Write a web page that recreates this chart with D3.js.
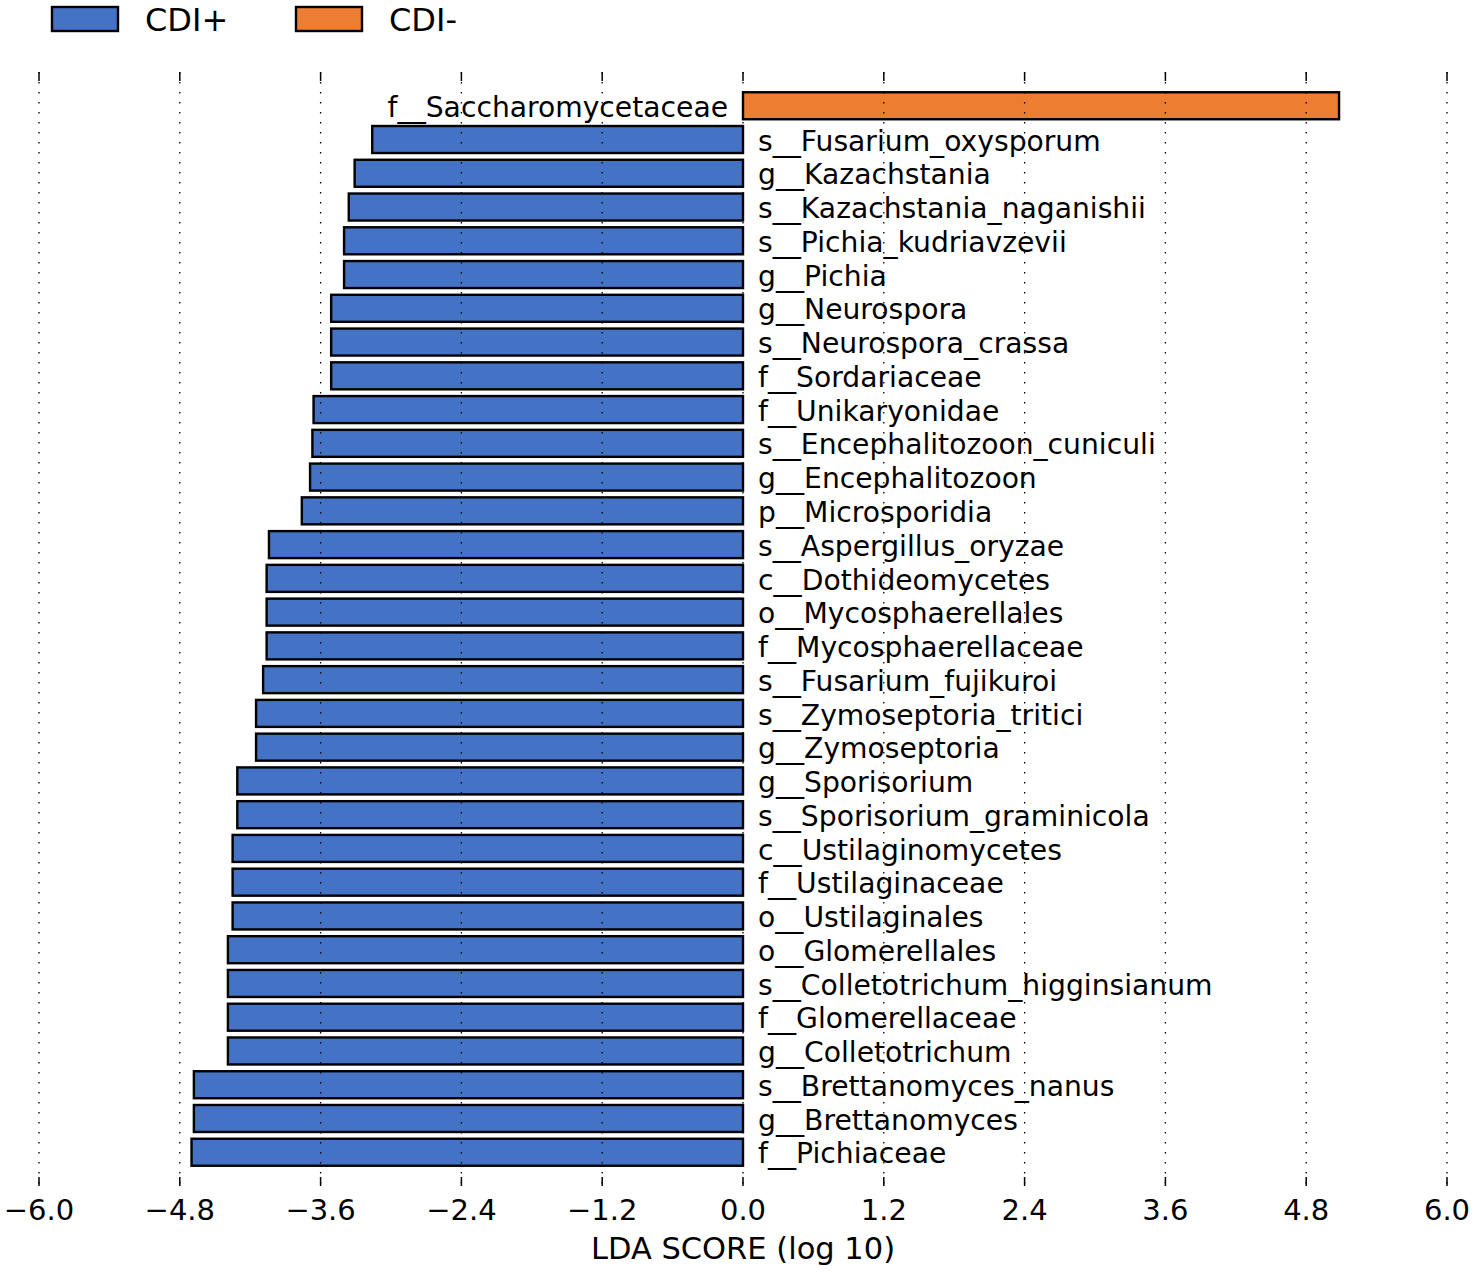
<!DOCTYPE html>
<html>
<head>
<meta charset="utf-8">
<script src="https://cdn.jsdelivr.net/npm/d3@7"></script>
<style>
  html, body { margin: 0; padding: 0; background: #fff; }
  text { font-family: "DejaVu Sans", sans-serif; fill: #000; }
</style>
</head>
<body>
<svg id="chart" width="1476" height="1274"></svg>
<script>
const taxa = [
  "f__Saccharomycetaceae",
  "s__Fusarium_oxysporum",
  "g__Kazachstania",
  "s__Kazachstania_naganishii",
  "s__Pichia_kudriavzevii",
  "g__Pichia",
  "g__Neurospora",
  "s__Neurospora_crassa",
  "f__Sordariaceae",
  "f__Unikaryonidae",
  "s__Encephalitozoon_cuniculi",
  "g__Encephalitozoon",
  "p__Microsporidia",
  "s__Aspergillus_oryzae",
  "c__Dothideomycetes",
  "o__Mycosphaerellales",
  "f__Mycosphaerellaceae",
  "s__Fusarium_fujikuroi",
  "s__Zymoseptoria_tritici",
  "g__Zymoseptoria",
  "g__Sporisorium",
  "s__Sporisorium_graminicola",
  "c__Ustilaginomycetes",
  "f__Ustilaginaceae",
  "o__Ustilaginales",
  "o__Glomerellales",
  "s__Colletotrichum_higginsianum",
  "f__Glomerellaceae",
  "g__Colletotrichum",
  "s__Brettanomyces_nanus",
  "g__Brettanomyces",
  "f__Pichiaceae"
];
const ldaScores = [
  5.08, -3.16, -3.31, -3.36, -3.40, -3.40, -3.51, -3.51, -3.51,
  -3.66, -3.67, -3.69, -3.76, -4.04, -4.06, -4.06, -4.06, -4.09,
  -4.15, -4.15, -4.31, -4.31, -4.35, -4.35, -4.35, -4.39, -4.39,
  -4.39, -4.39, -4.68, -4.68, -4.70
];
const groups = ["CDI+", "CDI-"];
const groupColors = ["#4472C4", "#ED7D31"];
const xTicks = [-6.0, -4.8, -3.6, -2.4, -1.2, 0.0, 1.2, 2.4, 3.6, 4.8, 6.0];
const xLabel = "LDA SCORE (log 10)";

const data = taxa.map((t, i) => ({ name: t, value: ldaScores[i] }));

const svg = d3.select("#chart");
const plotTop = 72, plotBottom = 1186;
const x = d3.scaleLinear().domain([-6, 6]).range([39, 1447]);
const y = d3.scaleBand().domain(taxa).range([plotTop, plotBottom]).paddingInner(0.2).paddingOuter(0.6);
const color = d3.scaleOrdinal().domain(groups).range(groupColors);

// bars
svg.append("g").selectAll("rect").data(data).join("rect")
  .attr("x", d => x(Math.min(0, d.value)))
  .attr("y", d => y(d.name))
  .attr("width", d => Math.abs(x(d.value) - x(0)))
  .attr("height", y.bandwidth())
  .attr("fill", d => d.value < 0 ? color("CDI+") : color("CDI-"))
  .attr("stroke", "#000")
  .attr("stroke-width", 2.4);

// labels
svg.append("g").selectAll("text").data(data).join("text")
  .attr("x", d => d.value < 0 ? x(0) + 15 : x(0) - 15)
  .attr("y", d => y(d.name) + y.bandwidth() / 2 + 1)
  .attr("dy", "0.36em")
  .attr("text-anchor", d => d.value < 0 ? "start" : "end")
  .style("font-size", "28.2px")
  .text(d => d.name);

// grid lines (dotted, on top)
const grid = svg.append("g");
grid.selectAll("line").data(xTicks).join("line")
  .attr("x1", d => x(d)).attr("x2", d => x(d))
  .attr("y1", plotTop).attr("y2", plotBottom)
  .attr("stroke", "#000").attr("stroke-width", 1.3)
  .attr("stroke-dasharray", "1.5,8.5");

// axis ticks top and bottom (inward)
const tickG = svg.append("g");
tickG.selectAll("line.t").data(xTicks).join("line").attr("class", "t")
  .attr("x1", d => x(d)).attr("x2", d => x(d))
  .attr("y1", plotTop).attr("y2", plotTop + 9)
  .attr("stroke", "#000").attr("stroke-width", 1.5);
tickG.selectAll("line.b").data(xTicks).join("line").attr("class", "b")
  .attr("x1", d => x(d)).attr("x2", d => x(d))
  .attr("y1", plotBottom - 9).attr("y2", plotBottom)
  .attr("stroke", "#000").attr("stroke-width", 1.5);

// tick labels
const fmt = d => (d < 0 ? "\u2212" : "") + Math.abs(d).toFixed(1);
svg.append("g").selectAll("text").data(xTicks).join("text")
  .attr("x", d => x(d))
  .attr("y", 1220)
  .attr("text-anchor", "middle")
  .style("font-size", "29px")
  .text(fmt);

// axis label
svg.append("text")
  .attr("x", x(0)).attr("y", 1259)
  .attr("text-anchor", "middle")
  .style("font-size", "30.5px")
  .text(xLabel);

// legend
const legendX = [52, 296];
const leg = svg.append("g");
groups.forEach((g, i) => {
  leg.append("rect")
    .attr("x", legendX[i]).attr("y", 7)
    .attr("width", 66).attr("height", 24)
    .attr("fill", color(g)).attr("stroke", "#000").attr("stroke-width", 2.4);
  leg.append("text")
    .attr("x", legendX[i] + 93).attr("y", 31)
    .style("font-size", "32px")
    .text(g);
});
</script>
</body>
</html>
